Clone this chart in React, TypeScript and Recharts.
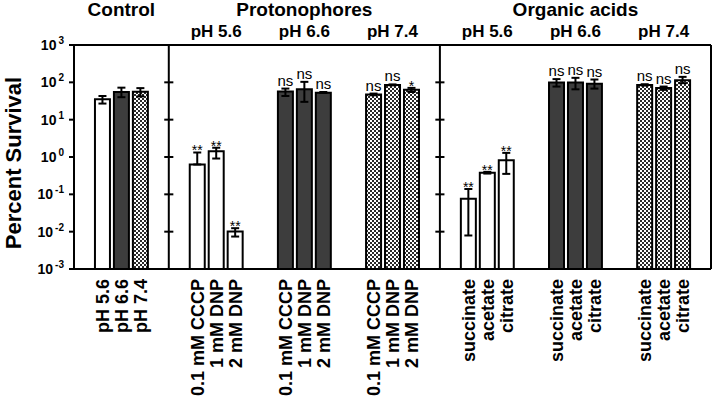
import {
  ComposedChart,
  Bar,
  ErrorBar,
  Cell,
  Scatter,
  XAxis,
  YAxis,
  ReferenceLine,
  ReferenceArea,
} from 'recharts';

// tick labels / categories
const panelTitles = ['Control', 'Protonophores', 'Organic acids'];
const phLabels = ['pH 5.6', 'pH 6.6', 'pH 7.4'];
const controlLabels = ['pH 5.6', 'pH 6.6', 'pH 7.4'];
const protonophoreLabels = ['0.1 mM CCCP', '1 mM DNP', '2 mM DNP'];
const acidLabels = ['succinate', 'acetate', 'citrate'];
const yTicks = [0.001, 0.01, 0.1, 1, 10, 100, 1000];

// percent survival (mean, lower and upper end of the error bar)
const controlMean = [35, 55, 56];
const controlLow = [27, 40, 42];
const controlHigh = [43, 72, 70];

const protoPh56Mean = [0.63, 1.43, 0.0101];
const protoPh56Low = [0.63, 0.91, 0.0074];
const protoPh56High = [1.32, 1.77, 0.0124];
const protoPh56Sig = ['**', '**', '**'];

const protoPh66Mean = [57, 65, 53];
const protoPh66Low = [43, 30, 52];
const protoPh66High = [68, 103, 55];
const protoPh66Sig = ['ns', 'ns', 'ns'];

const protoPh74Mean = [47, 85, 63];
const protoPh74Low = [45, 83, 55];
const protoPh74High = [50, 88, 71];
const protoPh74Sig = ['ns', 'ns', '*'];

const acidPh56Mean = [0.076, 0.376, 0.82];
const acidPh56Low = [0.0079, 0.36, 0.353];
const acidPh56High = [0.139, 0.4, 1.29];
const acidPh56Sig = ['**', '**', '**'];

const acidPh66Mean = [99, 99, 91];
const acidPh66Low = [77, 65, 68];
const acidPh66High = [122, 132, 119];
const acidPh66Sig = ['ns', 'ns', 'ns'];

const acidPh74Mean = [85, 70, 114];
const acidPh74Low = [82, 63, 95];
const acidPh74High = [89, 77, 140];
const acidPh74Sig = ['ns', 'ns', 'ns'];

const groups = [
  { panel: 0, title: '', labels: controlLabels, mean: controlMean, low: controlLow, high: controlHigh, sig: ['', '', ''], ph: [0, 1, 2] },
  { panel: 1, title: phLabels[0], labels: protonophoreLabels, mean: protoPh56Mean, low: protoPh56Low, high: protoPh56High, sig: protoPh56Sig, ph: [0, 0, 0] },
  { panel: 1, title: phLabels[1], labels: protonophoreLabels, mean: protoPh66Mean, low: protoPh66Low, high: protoPh66High, sig: protoPh66Sig, ph: [1, 1, 1] },
  { panel: 1, title: phLabels[2], labels: protonophoreLabels, mean: protoPh74Mean, low: protoPh74Low, high: protoPh74High, sig: protoPh74Sig, ph: [2, 2, 2] },
  { panel: 2, title: phLabels[0], labels: acidLabels, mean: acidPh56Mean, low: acidPh56Low, high: acidPh56High, sig: acidPh56Sig, ph: [0, 0, 0] },
  { panel: 2, title: phLabels[1], labels: acidLabels, mean: acidPh66Mean, low: acidPh66Low, high: acidPh66High, sig: acidPh66Sig, ph: [1, 1, 1] },
  { panel: 2, title: phLabels[2], labels: acidLabels, mean: acidPh74Mean, low: acidPh74Low, high: acidPh74High, sig: acidPh74Sig, ph: [2, 2, 2] },
];

// layout in bar-slot units
const PAD = 1.5;
const GAP = 2.65;

const rows: any[] = [];
const panelSpans: { title: string; x1: number; x2: number }[] = [];
const groupSpans: { title: string; x1: number; x2: number }[] = [];
let cursor = 0;
panelTitles.forEach((title, p) => {
  const start = cursor;
  let pos = start + PAD;
  groups
    .filter((g) => g.panel === p)
    .forEach((g, gi) => {
      if (gi > 0) pos += GAP;
      const first = pos;
      g.mean.forEach((m, i) => {
        rows.push({
          x: pos,
          label: g.labels[i],
          value: m,
          err: [m - g.low[i], g.high[i] - m],
          top: g.high[i],
          sig: g.sig[i],
          ph: g.ph[i],
        });
        if (i < g.mean.length - 1) pos += 1;
      });
      if (g.title) groupSpans.push({ title: g.title, x1: first - 0.5, x2: pos + 0.5 });
    });
  cursor = pos + PAD;
  panelSpans.push({ title, x1: start, x2: cursor });
});
const XMAX = cursor;
const dividers = panelSpans.slice(1).map((s) => s.x1);
const innerTicks = [0.01, 0.1, 1, 10, 100];

const fills = ['#ffffff', '#3d3d3d', 'url(#checker)'];
const FONT = '"Liberation Sans", Arial, Helvetica, sans-serif';

const PowerTick = (props: any) => {
  const { x, y, payload } = props;
  const exp = Math.round(Math.log10(payload.value));
  return (
    <text x={x - 3} y={y} textAnchor="end" dy="0.36em" fill="#000" fontWeight="bold" fontSize={14}>
      <tspan>10</tspan>
      <tspan dx={2} dy={-6} fontSize={10}>{exp}</tspan>
    </text>
  );
};

const CategoryTick = (props: any) => {
  const { x, y, payload } = props;
  const row = rows.find((r) => Math.abs(r.x - payload.value) < 1e-6);
  if (!row) return null;
  const ty = y + 2;
  return (
    <text
      x={x}
      y={ty}
      transform={`rotate(-90, ${x}, ${ty})`}
      textAnchor="end"
      dy="0.36em"
      fill="#000"
      fontWeight="bold"
      fontSize={18}
    >
      {row.label}
    </text>
  );
};

const YTitle = (props: any) => {
  const { viewBox } = props;
  const cx = 21;
  const cy = viewBox.y + viewBox.height / 2 + 6;
  return (
    <text x={cx} y={cy} transform={`rotate(-90, ${cx}, ${cy})`} textAnchor="middle" fill="#000" fontWeight="bold" fontSize={22}>
      Percent Survival
    </text>
  );
};

const SigMark = (props: any) => {
  const { cx, cy, payload } = props;
  if (!payload.sig) return <g />;
  const isStar = payload.sig.includes('*');
  return (
    <text
      x={cx}
      y={isStar ? cy + 3 : cy - 3}
      textAnchor="middle"
      fill="#000"
      fontSize={isStar ? 14 : 15}
    >
      {payload.sig}
    </text>
  );
};

export default function App() {
  return (
    <div style={{ position: 'absolute', left: 0, top: 0, width: 714, height: 404, background: '#fff', fontFamily: FONT }}>
      <ComposedChart width={714} height={404} data={rows} margin={{ top: 45, right: 3, bottom: 0, left: 0 }}>
        <defs>
          <pattern id="checker" width="4" height="4" patternUnits="userSpaceOnUse">
            <rect width="4" height="4" fill="#ffffff" />
            <rect width="2" height="2" fill="#2a2a2a" />
            <rect x="2" y="2" width="2" height="2" fill="#2a2a2a" />
          </pattern>
        </defs>
        <XAxis
          type="number"
          dataKey="x"
          domain={[0, XMAX]}
          ticks={rows.map((r) => r.x)}
          interval={0}
          allowDataOverflow
          tickLine={false}
          axisLine={{ stroke: '#000', strokeWidth: 2 }}
          height={135}
          tick={<CategoryTick />}
        />
        <YAxis
          scale="log"
          type="number"
          domain={[0.001, 1000]}
          ticks={yTicks}
          allowDataOverflow
          interval={0}
          width={74}
          tickSize={5}
          axisLine={{ stroke: '#000', strokeWidth: 2 }}
          tickLine={{ stroke: '#000', strokeWidth: 2 }}
          tick={<PowerTick />}
          label={{ content: (p: any) => <YTitle {...p} /> }}
        />
        {panelSpans.map((s) => (
          <ReferenceArea
            key={s.title}
            x1={s.x1}
            x2={s.x2}
            fill="none"
            fillOpacity={0}
            stroke="none"
            ifOverflow="visible"
            label={{ value: s.title, position: 'top', offset: 29, fill: '#000', fontSize: 19, fontWeight: 'bold' }}
          />
        ))}
        {groupSpans.map((s, i) => (
          <ReferenceArea
            key={`g${i}`}
            x1={s.x1}
            x2={s.x2}
            fill="none"
            fillOpacity={0}
            stroke="none"
            ifOverflow="visible"
            label={{ value: s.title, position: 'top', offset: 8, fill: '#000', fontSize: 17, fontWeight: 'bold' }}
          />
        ))}
        <ReferenceLine y={1000} stroke="#000" strokeWidth={2} ifOverflow="visible" />
        <ReferenceLine x={XMAX} stroke="#000" strokeWidth={2} ifOverflow="visible" />
        {dividers.map((d) => (
          <ReferenceLine key={`d${d}`} x={d} stroke="#000" strokeWidth={2} />
        ))}
        {dividers.flatMap((d) =>
          innerTicks.map((t) => (
            <ReferenceLine
              key={`t${d}-${t}`}
              segment={[
                { x: d - 0.24, y: t },
                { x: d + 0.24, y: t },
              ]}
              stroke="#000"
              strokeWidth={2}
            />
          ))
        )}
        <Bar dataKey="value" barSize={15} stroke="#000" strokeWidth={2} isAnimationActive={false}>
          {rows.map((r, i) => (
            <Cell key={i} fill={fills[r.ph]} />
          ))}
          <ErrorBar dataKey="err" width={4} stroke="#000" strokeWidth={2} direction="y" />
        </Bar>
        <Scatter dataKey="top" shape={<SigMark />} isAnimationActive={false} />
      </ComposedChart>
    </div>
  );
}
